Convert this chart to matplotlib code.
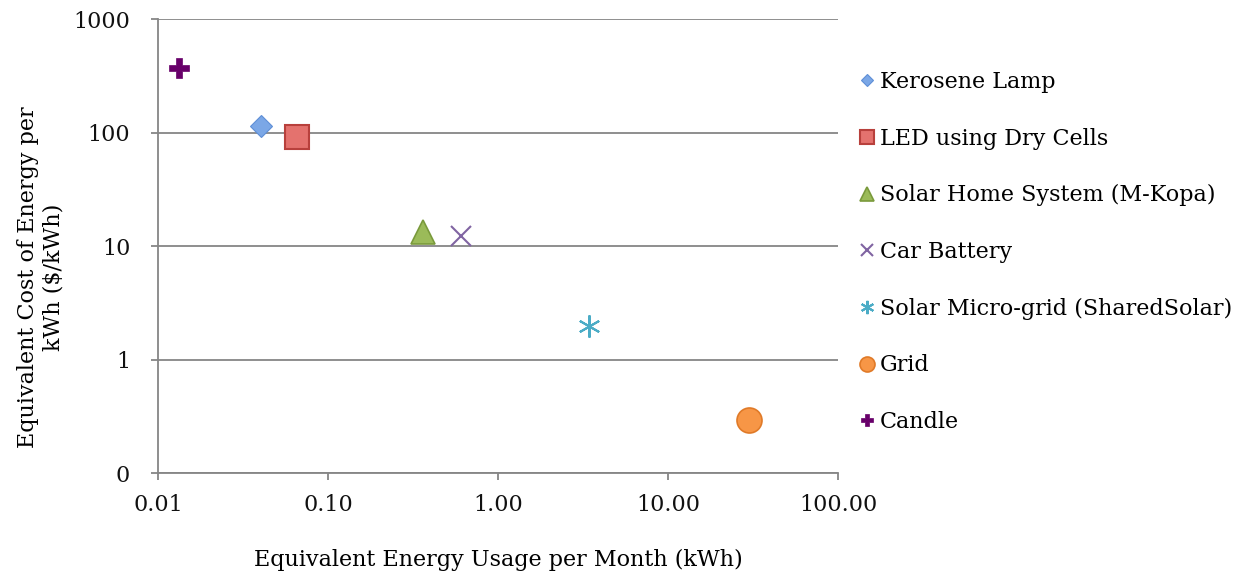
import matplotlib
matplotlib.use("Agg")
import matplotlib.pyplot as plt
from matplotlib.ticker import FixedLocator, FixedFormatter, NullLocator

# values
labels = [
    "Kerosene Lamp",
    "LED using Dry Cells",
    "Solar Home System (M-Kopa)",
    "Car Battery",
    "Solar Micro-grid (SharedSolar)",
    "Grid",
    "Candle",
]
usage_kwh = [0.0404, 0.0659, 0.364, 0.604, 3.42, 30.1, 0.0133]
cost_per_kwh = [114, 92, 13.3, 12.3, 1.97, 0.293, 374]

x_ticks = [0.01, 0.1, 1, 10, 100]
x_tick_labels = ["0.01", "0.10", "1.00", "10.00", "100.00"]
y_ticks = [0.1, 1, 10, 100, 1000]
y_tick_labels = ["0", "1", "10", "100", "1000"]

# marker, size, face, edge, edge width
styles = [
    ("D", 11, "#7ba7e6", "#5f8fd6", 0.8),
    ("s", 17, "#e4726e", "#b8403c", 1.5),
    ("^", 17, "#9bbb59", "#7a9a3c", 1.2),
    ("x", 15, "#8064a2", "#8064a2", 1.5),
    ((6, 2, 0), 16, "#4bacc6", "#4bacc6", 1.5),
    ("o", 18, "#f79646", "#e07a28", 1.2),
    ("P", 15, "#68006a", "#68006a", 0.5),
]

GRAY = "#868686"
plt.rcParams["font.family"] = ["DejaVu Serif"]

fig = plt.figure(figsize=(12.42, 5.73), dpi=100)
ax = fig.add_axes([158 / 1242, 1 - 473 / 573, 680 / 1242, 453.7 / 573])

for lab, xv, yv, (mk, ms, fc, ec, ew) in zip(labels, usage_kwh, cost_per_kwh, styles):
    ax.plot([xv], [yv], linestyle="none", marker=mk, markersize=ms,
            markerfacecolor=fc, markeredgecolor=ec, markeredgewidth=ew,
            label=lab, zorder=3)

ax.set_xscale("log")
ax.set_yscale("log")
ax.set_xlim(0.01, 100)
ax.set_ylim(0.1, 1000)

ax.xaxis.set_major_locator(FixedLocator(x_ticks))
ax.xaxis.set_major_formatter(FixedFormatter(x_tick_labels))
ax.xaxis.set_minor_locator(NullLocator())
ax.yaxis.set_major_locator(FixedLocator(y_ticks))
ax.yaxis.set_major_formatter(FixedFormatter(y_tick_labels))
ax.yaxis.set_minor_locator(NullLocator())

ax.grid(True, axis="y", color=GRAY, linewidth=1.3)
ax.set_axisbelow(True)
for side in ("top", "right"):
    ax.spines[side].set_visible(False)
for side in ("left", "bottom"):
    ax.spines[side].set_color(GRAY)
    ax.spines[side].set_linewidth(1.3)

ax.tick_params(axis="both", direction="out", length=5, width=1.3, color=GRAY,
               labelsize=16, labelcolor="#111111")
ax.tick_params(axis="y", pad=15)
ax.tick_params(axis="x", pad=10)

ax.set_xlabel("Equivalent Energy Usage per Month (kWh)", fontsize=16, labelpad=24)
ax.set_ylabel("Equivalent Cost of Energy per\nkWh ($/kWh)", fontsize=16)
ax.yaxis.set_label_coords(-0.138, 0.432)

fig.legend(loc="upper left", bbox_to_anchor=(849 / 1242, 1 - 62 / 573),
           frameon=False, fontsize=16, labelspacing=1.56, handlelength=0.8,
           handletextpad=0.2, markerscale=0.6, borderaxespad=0)

fig.savefig("out.png", dpi=100)
